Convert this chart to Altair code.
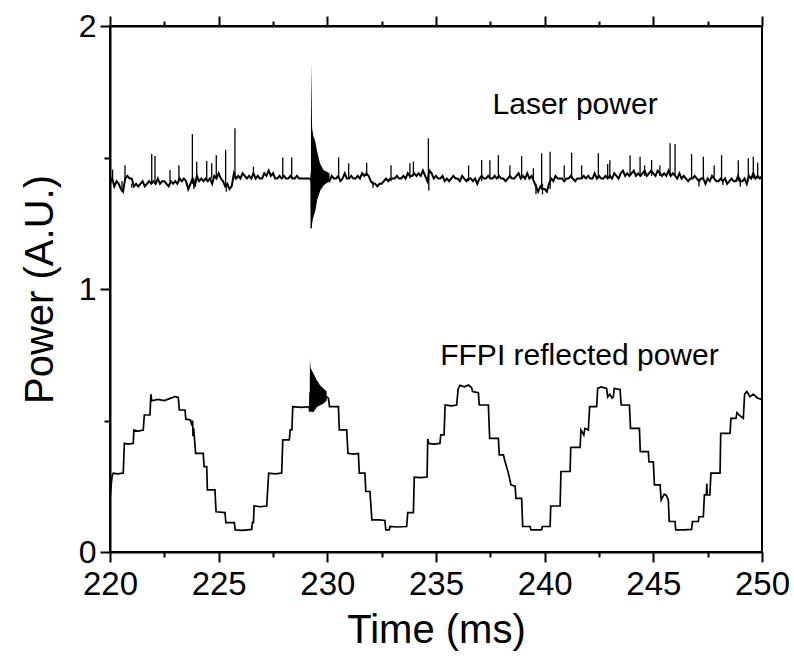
import altair as alt
import pandas as pd

# ---------------- data ----------------
x_major = [220, 225, 230, 235, 240, 245, 250]
x_minor = [222.5, 227.5, 232.5, 237.5, 242.5, 247.5]
y_ticks = [0, 0.5, 1, 1.5, 2]

# Laser power: sampled every 0.1 ms from 220.0 to 250.0
laser_start = 220.0
laser_step = 0.1
laser_y = [
    1.40, 1.42, 1.39, 1.41, 1.40, 1.38, 1.37, 1.42, 1.43, 1.42,
    1.42, 1.39, 1.40, 1.39, 1.40, 1.41, 1.39, 1.40, 1.41, 1.40,
    1.41, 1.40, 1.42, 1.40, 1.41, 1.41, 1.40, 1.39, 1.41, 1.40,
    1.41, 1.40, 1.42, 1.41, 1.42, 1.41, 1.38, 1.40, 1.42, 1.39,
    1.43, 1.41, 1.42, 1.41, 1.42, 1.41, 1.42, 1.40, 1.43, 1.42,
    1.44, 1.42, 1.41, 1.39, 1.40, 1.38, 1.39, 1.44, 1.42, 1.43,
    1.42, 1.44, 1.43, 1.42, 1.43, 1.42, 1.44, 1.42, 1.43, 1.42,
    1.42, 1.44, 1.43, 1.45, 1.43, 1.44, 1.42, 1.42, 1.43, 1.42,
    1.43, 1.42, 1.42, 1.43, 1.42, 1.42, 1.43, 1.42, 1.42, 1.42,
    1.42, 1.42, 1.42, 1.41, 1.44, 1.40, 1.43, 1.41, 1.43, 1.42,
    1.42, 1.41, 1.43, 1.42, 1.42, 1.43, 1.41, 1.42, 1.44, 1.42,
    1.42, 1.43, 1.42, 1.42, 1.43, 1.42, 1.44, 1.43, 1.44, 1.43,
    1.41, 1.40, 1.40, 1.39, 1.40, 1.40, 1.41, 1.42, 1.41, 1.42,
    1.42, 1.42, 1.43, 1.42, 1.42, 1.43, 1.42, 1.44, 1.43, 1.43,
    1.44, 1.43, 1.44, 1.43, 1.45, 1.43, 1.41, 1.45, 1.44, 1.42,
    1.43, 1.42, 1.42, 1.43, 1.41, 1.42, 1.41, 1.42, 1.43, 1.42,
    1.42, 1.41, 1.43, 1.42, 1.41, 1.42, 1.42, 1.41, 1.42, 1.40,
    1.42, 1.43, 1.42, 1.42, 1.43, 1.42, 1.42, 1.43, 1.42, 1.43,
    1.42, 1.42, 1.41, 1.42, 1.43, 1.42, 1.42, 1.43, 1.44, 1.42,
    1.43, 1.42, 1.44, 1.42, 1.43, 1.41, 1.39, 1.37, 1.39, 1.38,
    1.38, 1.37, 1.40, 1.42, 1.41, 1.43, 1.42, 1.42, 1.42, 1.41,
    1.42, 1.42, 1.43, 1.42, 1.41, 1.42, 1.42, 1.42, 1.43, 1.42,
    1.43, 1.42, 1.42, 1.44, 1.42, 1.43, 1.42, 1.42, 1.43, 1.42,
    1.43, 1.42, 1.44, 1.43, 1.42, 1.44, 1.45, 1.43, 1.44, 1.43,
    1.44, 1.45, 1.43, 1.44, 1.43, 1.44, 1.45, 1.43, 1.44, 1.45,
    1.44, 1.43, 1.45, 1.44, 1.43, 1.44, 1.43, 1.45, 1.43, 1.44,
    1.43, 1.42, 1.44, 1.42, 1.43, 1.42, 1.41, 1.42, 1.42, 1.43,
    1.42, 1.41, 1.42, 1.42, 1.40, 1.42, 1.41, 1.43, 1.42, 1.41,
    1.41, 1.42, 1.41, 1.42, 1.40, 1.41, 1.42, 1.41, 1.41, 1.43,
    1.41, 1.41, 1.42, 1.40, 1.43, 1.42, 1.44, 1.42, 1.43, 1.42,
    1.43,
]

# narrow spikes on the laser trace: time, low end, high end
spike_t = [220.12, 220.69, 221.92, 222.07, 222.76, 223.17, 223.79, 223.99, 224.45, 224.68,
           224.89, 225.32, 225.75, 226.60, 227.95, 228.36, 230.52, 230.98, 231.81, 232.93,
           233.80, 233.96, 234.65, 236.50, 237.10, 237.48, 237.87, 238.40, 238.94, 239.48,
           239.86, 240.25, 240.90, 241.24, 241.70, 242.47, 242.90, 243.00, 243.93, 244.39,
           244.60, 244.92, 245.30, 245.77, 246.00, 246.76, 247.30, 247.80, 248.14, 248.91,
           249.37, 249.60, 249.80,
           220.55, 221.00, 223.86, 225.35, 232.10, 234.67, 239.60, 239.90, 247.10, 248.20,
           249.00]
spike_lo = [1.41, 1.41, 1.40, 1.40, 1.41, 1.41, 1.40, 1.41, 1.41, 1.42,
            1.42, 1.40, 1.42, 1.43, 1.42, 1.42, 1.42, 1.42, 1.43, 1.41,
            1.42, 1.43, 1.41, 1.41, 1.41, 1.42, 1.42, 1.42, 1.43, 1.42,
            1.38, 1.38, 1.42, 1.42, 1.42, 1.42, 1.42, 1.42, 1.43, 1.43,
            1.43, 1.43, 1.43, 1.43, 1.43, 1.42, 1.42, 1.42, 1.41, 1.41,
            1.42, 1.42, 1.42,
            1.37, 1.385, 1.38, 1.37, 1.385, 1.375, 1.36, 1.36, 1.39, 1.395,
            1.39]
spike_hi = [1.454, 1.471, 1.513, 1.506, 1.452, 1.471, 1.589, 1.484, 1.487, 1.478,
            1.509, 1.529, 1.611, 1.465, 1.500, 1.500, 1.500, 1.478, 1.480, 1.471,
            1.478, 1.484, 1.573, 1.470, 1.490, 1.490, 1.509, 1.470, 1.505, 1.459,
            1.516, 1.522, 1.470, 1.518, 1.470, 1.516, 1.475, 1.490, 1.509, 1.503,
            1.470, 1.490, 1.470, 1.554, 1.551, 1.513, 1.503, 1.470, 1.509, 1.490,
            1.497, 1.503, 1.480,
            1.41, 1.40, 1.42, 1.40, 1.41, 1.43, 1.40, 1.40, 1.42, 1.41,
            1.42]

# oscillation bursts near 229.2 ms (envelopes)
laser_burst_t = [229.22, 229.245, 229.25, 229.30, 229.36, 229.43, 229.51, 229.66, 229.82, 229.97, 230.10]
laser_burst_lo = [1.42, 1.40, 1.231, 1.262, 1.28, 1.30, 1.34, 1.376, 1.395, 1.405, 1.41]
laser_burst_hi = [1.43, 1.45, 1.864, 1.611, 1.58, 1.567, 1.53, 1.478, 1.452, 1.446, 1.44]

ffpi_burst_t = [229.17, 229.19, 229.20, 229.23, 229.36, 229.51, 229.66, 229.82, 229.97]
ffpi_burst_lo = [0.550, 0.534, 0.534, 0.536, 0.534, 0.553, 0.559, 0.566, 0.578]
ffpi_burst_hi = [0.556, 0.600, 0.736, 0.700, 0.679, 0.654, 0.635, 0.622, 0.610]

# FFPI reflected power
ffpi_t = [
    220.00, 220.06, 220.10, 220.15, 220.35, 220.61, 220.66, 220.85, 221.07, 221.10,
    221.30, 221.53, 221.58, 221.84, 221.88, 221.92, 222.20, 222.50, 222.80, 223.00,
    223.14, 223.19, 223.45, 223.49, 223.70, 223.78, 223.80, 223.82, 223.85, 223.94,
    224.29, 224.33, 224.45, 224.48, 224.83, 224.88, 225.29, 225.33, 225.72, 225.76,
    226.10, 226.52, 226.55, 226.60, 226.63, 226.90, 227.21, 227.30, 227.60, 227.90,
    227.95, 228.25, 228.29, 228.37, 228.41, 228.80, 229.17, 229.19, 229.21, 229.40,
    229.70, 229.97, 230.05, 230.10, 230.51, 230.55, 230.89, 230.95, 231.20, 231.43,
    231.47, 231.73, 231.77, 231.96, 232.05, 232.40, 232.65, 232.69, 232.85, 232.88,
    233.20, 233.65, 233.70, 233.96, 234.00, 234.30, 234.59, 234.62, 234.66, 234.90,
    235.18, 235.22, 235.37, 235.42, 235.70, 235.95, 236.02, 236.10, 236.30, 236.50,
    236.64, 236.68, 236.95, 236.99, 237.41, 237.47, 237.87, 237.91, 238.10, 238.18,
    238.33, 238.45, 238.64, 238.68, 238.94, 238.99, 239.33, 239.37, 239.86, 239.89,
    240.25, 240.28, 240.71, 240.75, 241.17, 241.20, 241.63, 241.67, 241.80, 241.85,
    242.01, 242.07, 242.39, 242.44, 242.60, 242.85, 242.90, 243.00, 243.10, 243.16,
    243.20, 243.47, 243.52, 243.90, 243.95, 244.36, 244.40, 244.77, 244.80, 245.00,
    245.05, 245.31, 245.36, 245.50, 245.60, 245.69, 245.73, 246.00, 246.03, 246.40,
    246.76, 246.80, 247.07, 247.10, 247.30, 247.35, 247.44, 247.46, 247.48, 247.60,
    247.65, 248.07, 248.10, 248.53, 248.57, 248.80, 248.85, 248.95, 249.14, 249.20,
    249.30, 249.45, 249.60, 249.80, 250.00,
]
ffpi_y = [
    0.200, 0.260, 0.290, 0.300, 0.297, 0.300, 0.413, 0.410, 0.413, 0.464,
    0.460, 0.464, 0.521, 0.521, 0.600, 0.575, 0.580, 0.576, 0.585, 0.591,
    0.588, 0.540, 0.540, 0.505, 0.502, 0.480, 0.500, 0.440, 0.470, 0.375,
    0.375, 0.325, 0.325, 0.236, 0.236, 0.153, 0.150, 0.112, 0.112, 0.084,
    0.082, 0.086, 0.112, 0.112, 0.175, 0.172, 0.175, 0.300, 0.297, 0.300,
    0.426, 0.426, 0.464, 0.464, 0.553, 0.550, 0.553, 0.534, 0.600, 0.580,
    0.585, 0.590, 0.585, 0.553, 0.553, 0.464, 0.464, 0.375, 0.372, 0.375,
    0.300, 0.300, 0.230, 0.230, 0.122, 0.122, 0.120, 0.084, 0.084, 0.097,
    0.095, 0.097, 0.150, 0.150, 0.285, 0.283, 0.285, 0.430, 0.413, 0.410,
    0.413, 0.445, 0.445, 0.559, 0.556, 0.559, 0.620, 0.634, 0.628, 0.635,
    0.625, 0.610, 0.606, 0.559, 0.559, 0.432, 0.432, 0.369, 0.369, 0.343,
    0.300, 0.255, 0.250, 0.204, 0.204, 0.097, 0.097, 0.084, 0.084, 0.097,
    0.097, 0.175, 0.175, 0.306, 0.306, 0.398, 0.398, 0.464, 0.445, 0.470,
    0.464, 0.553, 0.553, 0.622, 0.628, 0.622, 0.590, 0.600, 0.585, 0.590,
    0.622, 0.618, 0.559, 0.559, 0.470, 0.470, 0.382, 0.382, 0.343, 0.343,
    0.255, 0.255, 0.198, 0.220, 0.215, 0.198, 0.116, 0.116, 0.084, 0.084,
    0.086, 0.116, 0.116, 0.134, 0.134, 0.217, 0.217, 0.260, 0.217, 0.217,
    0.300, 0.300, 0.451, 0.451, 0.508, 0.508, 0.530, 0.520, 0.508, 0.600,
    0.610, 0.590, 0.600, 0.585, 0.580,
]

labels_text = ["Laser power", "FFPI reflected power"]
labels_t = [241.4, 241.6]
labels_y = [1.70, 0.745]

# ---------------- tables ----------------
laser_df = pd.DataFrame({"t": [round(laser_start + laser_step * i, 1) for i in range(len(laser_y))],
                         "y": laser_y})
spike_df = pd.DataFrame({"t": spike_t, "lo": spike_lo, "hi": spike_hi})
burst_df = pd.concat([
    pd.DataFrame({"t": laser_burst_t, "lo": laser_burst_lo, "hi": laser_burst_hi, "s": "laser"}),
    pd.DataFrame({"t": ffpi_burst_t, "lo": ffpi_burst_lo, "hi": ffpi_burst_hi, "s": "ffpi"}),
])
ffpi_df = pd.DataFrame({"t": ffpi_t, "y": ffpi_y})
text_df = pd.DataFrame({"t": labels_t, "y": labels_y, "label": labels_text})

FONT = "Liberation Sans"
xscale = alt.Scale(domain=[220, 250], nice=False, zero=False)
yscale = alt.Scale(domain=[0, 2], nice=False, zero=False)

x_bottom = alt.Axis(orient="bottom", values=x_major, title="Time (ms)", format="d",
                    tickSize=10, labelPadding=6, titlePadding=9, labelFlush=False,
                    labelOverlap=False, labelFontSize=33, titleFontSize=40, grid=False)
x_bottom_minor = alt.Axis(orient="bottom", values=x_minor, title=None, labels=False,
                          tickSize=5, domain=False, grid=False)
x_top = alt.Axis(orient="top", values=x_major, title=None, labels=False,
                 tickSize=10, grid=False)
x_top_minor = alt.Axis(orient="top", values=x_minor, title=None, labels=False,
                       tickSize=5, domain=False, grid=False)

y_tick_size = {"condition": {"test": "datum.value % 1 === 0", "value": 10}, "value": 6}
y_left = alt.Axis(orient="left", values=y_ticks, title="Power (A.U.)",
                  labelExpr="datum.value % 1 === 0 ? format(datum.value, 'd') : ''",
                  tickSize=y_tick_size, labelPadding=4, titlePadding=18, labelFlush=False,
                  labelOverlap=False, labelFontSize=32, titleFontSize=40, grid=False)

laser_line = alt.Chart(laser_df).mark_line(color="black", strokeWidth=2).encode(
    x=alt.X("t:Q", scale=xscale, axis=x_bottom),
    y=alt.Y("y:Q", scale=yscale, axis=y_left),
)
ffpi_line = alt.Chart(ffpi_df).mark_line(color="black", strokeWidth=1.7).encode(
    x=alt.X("t:Q", scale=xscale, axis=x_top),
    y=alt.Y("y:Q", scale=yscale, axis=y_left),
)
spikes = alt.Chart(spike_df).mark_rule(color="black", strokeWidth=1.3).encode(
    x=alt.X("t:Q", scale=xscale, axis=x_bottom_minor),
    y=alt.Y("lo:Q", scale=yscale, axis=y_left),
    y2="hi:Q",
)
bursts = alt.Chart(burst_df).mark_area(color="black", opacity=1, line={"color": "black", "strokeWidth": 1}).encode(
    x=alt.X("t:Q", scale=xscale, axis=x_top_minor),
    y=alt.Y("lo:Q", scale=yscale, axis=y_left),
    y2="hi:Q",
    detail="s:N",
)
texts = alt.Chart(text_df).mark_text(fontSize=30, font=FONT, align="center", baseline="middle",
                                     color="black").encode(
    x=alt.X("t:Q", scale=xscale, axis=None),
    y=alt.Y("y:Q", scale=yscale, axis=y_left),
    text="label:N",
)

chart = alt.layer(laser_line, ffpi_line, spikes, bursts, texts).resolve_axis(
    x="independent"
).properties(
    width=652, height=526,
    autosize=alt.AutoSizeParams(type="none"),
    padding={"left": 110, "top": 26, "right": 32, "bottom": 119},
    background="white",
).configure_view(
    stroke="black", strokeWidth=2
).configure_axis(
    domainColor="black", domainWidth=2, tickColor="black", tickWidth=2,
    labelColor="black", titleColor="black", labelFont=FONT, titleFont=FONT,
    titleFontWeight="normal",
)

chart.save("out.html", embed_options={"renderer": "svg", "actions": False})
